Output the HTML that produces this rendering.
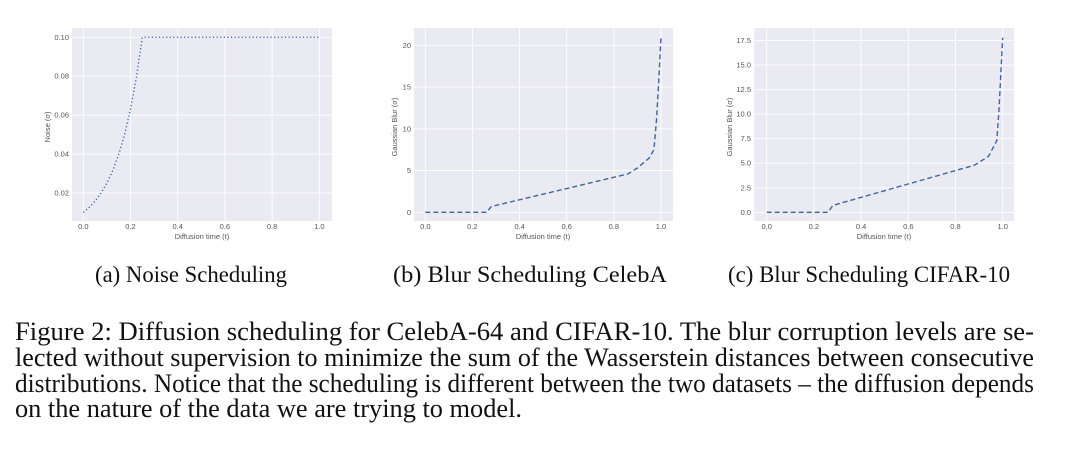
<!DOCTYPE html>
<html><head><meta charset="utf-8"><style>
html,body{margin:0;padding:0;background:#fff;}
svg{display:block;}
.t{font-family:"Liberation Sans",sans-serif;font-size:7.5px;fill:#555;}
.s{font-family:"Liberation Serif",serif;font-size:23px;fill:#111;}
.c{font-family:"Liberation Serif",serif;font-size:26px;fill:#111;}
</style></head><body>
<svg width="1080" height="451" viewBox="0 0 1080 451" xmlns="http://www.w3.org/2000/svg">
<!-- Plot 1 -->
<rect x="72" y="28" width="260" height="193" fill="#eaeaf2"/>
<g stroke="#fff" stroke-width="0.9">
<line x1="72" x2="332" y1="193" y2="193"/><line x1="72" x2="332" y1="154.1" y2="154.1"/><line x1="72" x2="332" y1="115.2" y2="115.2"/><line x1="72" x2="332" y1="76.2" y2="76.2"/><line x1="72" x2="332" y1="37.3" y2="37.3"/>
<line y1="28" y2="221" x1="83.3" x2="83.3"/><line y1="28" y2="221" x1="130.5" x2="130.5"/><line y1="28" y2="221" x1="177.7" x2="177.7"/><line y1="28" y2="221" x1="224.9" x2="224.9"/><line y1="28" y2="221" x1="272.1" x2="272.1"/><line y1="28" y2="221" x1="319.3" x2="319.3"/>
</g>
<polyline fill="none" stroke="#3f64a0" stroke-width="1.4" stroke-dasharray="1.2 2.4" points="83.3,212.4 89.2,207.4 95.1,201.1 101,193 106.9,183.1 112.8,170.4 118.7,154.4 124.6,134.8 130.5,109.1 136.4,77.4 142.3,37.3 319.3,37.3"/>
<g class="t" text-anchor="end"><text x="69" y="195.5">0.02</text><text x="69" y="156.6">0.04</text><text x="69" y="117.7">0.06</text><text x="69" y="78.7">0.08</text><text x="69" y="39.8">0.10</text></g>
<g class="t" text-anchor="middle"><text x="83.3" y="229">0.0</text><text x="130.5" y="229">0.2</text><text x="177.7" y="229">0.4</text><text x="224.9" y="229">0.6</text><text x="272.1" y="229">0.8</text><text x="319.3" y="229">1.0</text>
<text x="202" y="239">Diffusion time (t)</text>
<text transform="translate(50,127) rotate(-90)">Noise (σ)</text></g>

<!-- Plot 2 -->
<rect x="414" y="28" width="259" height="193" fill="#eaeaf2"/>
<g stroke="#fff" stroke-width="0.9">
<line x1="414" x2="673" y1="212.3" y2="212.3"/><line x1="414" x2="673" y1="170.5" y2="170.5"/><line x1="414" x2="673" y1="128.8" y2="128.8"/><line x1="414" x2="673" y1="87" y2="87"/><line x1="414" x2="673" y1="45.3" y2="45.3"/>
<line y1="28" y2="221" x1="425.3" x2="425.3"/><line y1="28" y2="221" x1="472.4" x2="472.4"/><line y1="28" y2="221" x1="519.6" x2="519.6"/><line y1="28" y2="221" x1="566.7" x2="566.7"/><line y1="28" y2="221" x1="613.9" x2="613.9"/><line y1="28" y2="221" x1="661" x2="661"/>
</g>
<polyline fill="none" stroke="#3f64a0" stroke-width="1.4" stroke-dasharray="5 3" points="425.3,212.3 486.6,212.3 491.3,206.5 628,173.9 637.4,168 649.2,158 653.9,149.7 656.5,120 658.8,80 661,37"/>
<g class="t" text-anchor="end"><text x="411" y="214.8">0</text><text x="411" y="173">5</text><text x="411" y="131.3">10</text><text x="411" y="89.5">15</text><text x="411" y="47.8">20</text></g>
<g class="t" text-anchor="middle"><text x="425.3" y="229">0.0</text><text x="472.4" y="229">0.2</text><text x="519.6" y="229">0.4</text><text x="566.7" y="229">0.6</text><text x="613.9" y="229">0.8</text><text x="661" y="229">1.0</text>
<text x="543" y="239">Diffusion time (t)</text>
<text transform="translate(397,127) rotate(-90)">Gaussian Blur (σ)</text></g>

<!-- Plot 3 -->
<rect x="754.3" y="28" width="259.7" height="193" fill="#eaeaf2"/>
<g stroke="#fff" stroke-width="0.9">
<line x1="754.3" x2="1014" y1="212.3" y2="212.3"/><line x1="754.3" x2="1014" y1="187.8" y2="187.8"/><line x1="754.3" x2="1014" y1="163.2" y2="163.2"/><line x1="754.3" x2="1014" y1="138.7" y2="138.7"/><line x1="754.3" x2="1014" y1="114.2" y2="114.2"/><line x1="754.3" x2="1014" y1="89.7" y2="89.7"/><line x1="754.3" x2="1014" y1="65.1" y2="65.1"/><line x1="754.3" x2="1014" y1="40.6" y2="40.6"/>
<line y1="28" y2="221" x1="766.7" x2="766.7"/><line y1="28" y2="221" x1="813.9" x2="813.9"/><line y1="28" y2="221" x1="861.1" x2="861.1"/><line y1="28" y2="221" x1="908.3" x2="908.3"/><line y1="28" y2="221" x1="955.5" x2="955.5"/><line y1="28" y2="221" x1="1002.7" x2="1002.7"/>
</g>
<polyline fill="none" stroke="#3f64a0" stroke-width="1.4" stroke-dasharray="5 3" points="766.7,212.3 828.1,212.3 832.8,205.4 974.4,165.2 988.5,156.4 996.8,140.7 999,110 1001,70 1002.7,37.7"/>
<g class="t" text-anchor="end"><text x="751" y="214.8">0.0</text><text x="751" y="190.3">2.5</text><text x="751" y="165.7">5.0</text><text x="751" y="141.2">7.5</text><text x="751" y="116.7">10.0</text><text x="751" y="92.2">12.5</text><text x="751" y="67.6">15.0</text><text x="751" y="43.1">17.5</text></g>
<g class="t" text-anchor="middle"><text x="766.7" y="229">0.0</text><text x="813.9" y="229">0.2</text><text x="861.1" y="229">0.4</text><text x="908.3" y="229">0.6</text><text x="955.5" y="229">0.8</text><text x="1002.7" y="229">1.0</text>
<text x="884" y="239">Diffusion time (t)</text>
<text transform="translate(732,127) rotate(-90)">Gaussian Blur (σ)</text></g>

<!-- Subcaptions -->
<text class="s" x="95" y="282" textLength="192" lengthAdjust="spacingAndGlyphs">(a) Noise Scheduling</text>
<text class="s" x="393" y="282" textLength="274" lengthAdjust="spacingAndGlyphs">(b) Blur Scheduling CelebA</text>
<text class="s" x="728" y="282" textLength="282" lengthAdjust="spacingAndGlyphs">(c) Blur Scheduling CIFAR-10</text>

<!-- Caption -->
<text class="c" x="15" y="340" textLength="1019" lengthAdjust="spacingAndGlyphs">Figure 2:  Diffusion scheduling for CelebA-64 and CIFAR-10.  The blur corruption levels are se-</text>
<text class="c" x="15" y="366" textLength="1019" lengthAdjust="spacingAndGlyphs">lected without supervision to minimize the sum of the Wasserstein distances between consecutive</text>
<text class="c" x="15" y="392" textLength="1019" lengthAdjust="spacingAndGlyphs">distributions. Notice that the scheduling is different between the two datasets – the diffusion depends</text>
<text class="c" x="15" y="417" textLength="507" lengthAdjust="spacingAndGlyphs">on the nature of the data we are trying to model.</text>
</svg>
</body></html>
